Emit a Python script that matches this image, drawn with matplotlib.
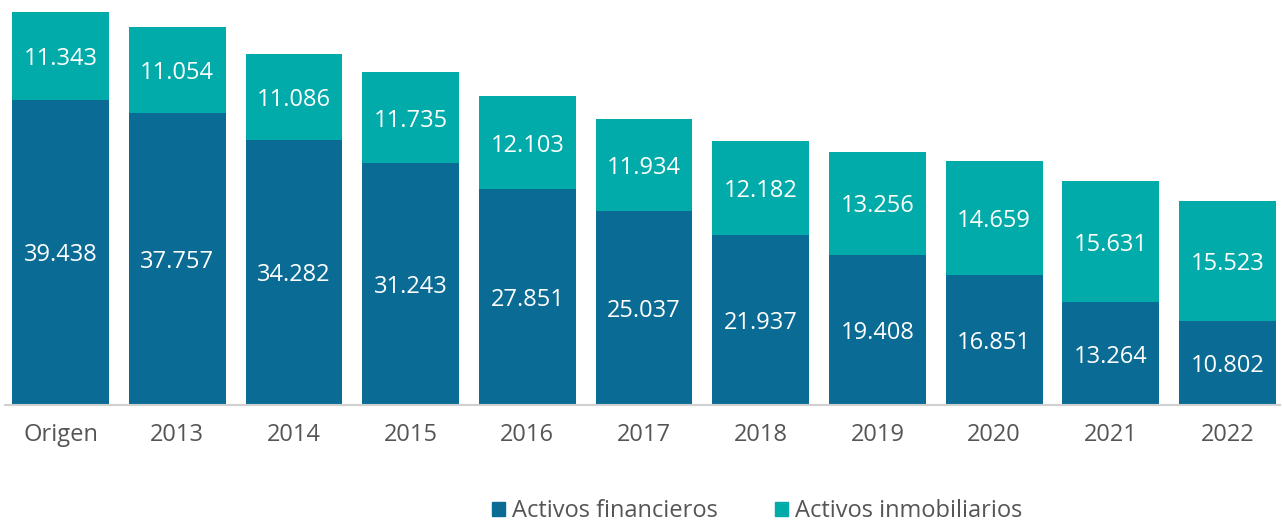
import matplotlib
matplotlib.use("Agg")
import matplotlib.pyplot as plt
from matplotlib.patches import Patch

categories = ["Origen", "2013", "2014", "2015", "2016", "2017", "2018", "2019", "2020", "2021", "2022"]
financieros = [39438, 37757, 34282, 31243, 27851, 25037, 21937, 19408, 16851, 13264, 10802]
inmobiliarios = [11343, 11054, 11086, 11735, 12103, 11934, 12182, 13256, 14659, 15631, 15523]

c_fin = "#0a6c94"
c_inm = "#00aba9"

def fmt(v):
    return f"{v:,}".replace(",", ".")

plt.rcParams['font.family'] = ['Open Sans', 'DejaVu Sans']
fig = plt.figure(figsize=(12.82, 5.22), dpi=100)
ax = fig.add_axes([5/1282, 117/522, 1275/1282, 405/522])
x = list(range(len(categories)))
w = 0.83
ax.bar(x, financieros, width=w, color=c_fin, edgecolor="none")
ax.bar(x, inmobiliarios, width=w, bottom=financieros, color=c_inm, edgecolor="none")
for i in x:
    ax.text(i, financieros[i] / 2, fmt(financieros[i]), ha="center", va="center_baseline", color="white", fontsize=17)
    ax.text(i, financieros[i] + inmobiliarios[i] / 2, fmt(inmobiliarios[i]), ha="center", va="center_baseline", color="white", fontsize=17)

ax.set_xlim(-0.476, 10.45)
ax.set_ylim(0, 52330)
ax.set_yticks([])
ax.set_xticks(x)
ax.set_xticklabels(categories, fontsize=17, color="#555555")
ax.tick_params(axis="x", length=0, pad=13)
for s in ["top", "right", "left"]:
    ax.spines[s].set_visible(False)
ax.spines["bottom"].set_color("#d0d0d0")
ax.spines["bottom"].set_linewidth(1.5)

handles = [Patch(color=c_fin), Patch(color=c_inm)]
fig.legend(handles, ["Activos financieros", "Activos inmobiliarios"], loc="center",
           bbox_to_anchor=(757/1282, 1 - 511/522), ncol=2, frameon=False, fontsize=17,
           handlelength=0.55, handleheight=0.55, handletextpad=0.3, columnspacing=2.4,
           labelcolor="#555555")

fig.savefig("out.png", dpi=100)
